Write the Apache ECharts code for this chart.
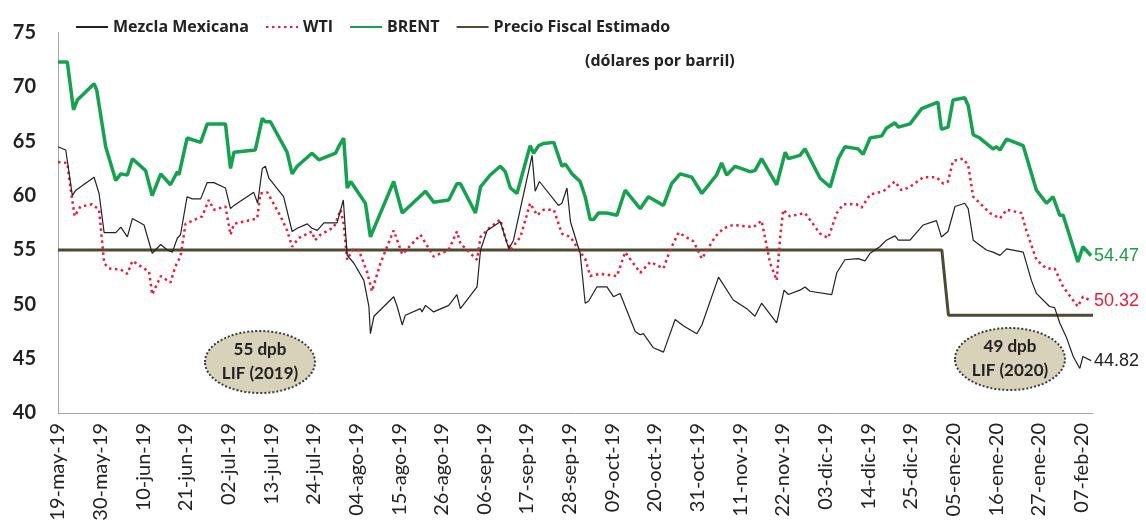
<!DOCTYPE html>
<html>
<head>
<meta charset="utf-8">
<title>Precios del petróleo</title>
<script src="https://cdn.jsdelivr.net/npm/echarts@6/dist/echarts.min.js"></script>
<style>
  html, body { margin: 0; padding: 0; background: #fff; }
  #chart { width: 1146px; height: 527px; }
</style>
</head>
<body>
<div id="chart"></div>
<script>
// dias contados desde el 19-may-19, etiquetas cada 11 dias
const tickLabels = ['19-may-19', '30-may-19', '10-jun-19', '21-jun-19', '02-jul-19', '13-jul-19', '24-jul-19',
  '04-ago-19', '15-ago-19', '26-ago-19', '06-sep-19', '17-sep-19', '28-sep-19', '09-oct-19', '20-oct-19',
  '31-oct-19', '11-nov-19', '22-nov-19', '03-dic-19', '14-dic-19', '25-dic-19', '05-ene-20', '16-ene-20',
  '27-ene-20', '07-feb-20'];

// [dia, dolares por barril]
const mezcla = [[0,64.5],[2,64.2],[3.7,60.0],[4.6,60.5],[9.3,61.7],[10.6,60.2],[11.9,56.6],[14.9,56.6],[16.2,57.1],
  [17.9,56.2],[19.2,57.9],[22.2,57.3],[24.3,54.7],[26.5,55.5],[28.2,55.0],[29.5,54.8],[30.8,56.1],[31.6,56.4],
  [33.3,59.9],[34.6,59.7],[36.8,59.7],[38.5,61.2],[40.2,61.2],[43.2,60.7],[44.5,58.8],[45.4,59.1],[50.5,60.3],
  [51.5,59.3],[52.7,62.5],[53.5,62.7],[54.4,61.6],[58.2,59.9],[60.4,56.7],[61.7,57.0],[64.3,57.4],[65.5,57.0],
  [66.9,56.8],[68.6,57.5],[72,57.5],[73.6,59.6],[74.6,54.5],[76.3,53.8],[78.9,52.2],[80.2,49.8],[80.6,47.3],
  [81.5,48.9],[86.6,50.7],[87.5,49.8],[88.8,48.1],[89.6,49.0],[93.5,49.6],[93.9,49.3],[94.8,49.9],[96.9,49.3],
  [100.8,49.9],[102.9,50.9],[103.8,49.6],[108.1,51.6],[109,55.0],[110.7,56.8],[114.1,57.6],[116.3,55.1],
  [117.5,55.9],[122.3,63.7],[123.1,60.4],[124.2,61.3],[129.1,59.1],[130,59.3],[131.3,60.7],[132.2,57.6],
  [134.7,54.7],[136,50.1],[136.9,50.3],[139,51.6],[141.6,51.6],[143.3,50.7],[145,51.0],[148.9,47.5],[150.2,47.2],
  [151,47.3],[153.6,46.0],[156.2,45.6],[159.2,48.6],[161.4,48.0],[164.8,47.3],[166.1,48.1],[170.4,52.5],
  [174.2,50.4],[177.7,49.6],[179.8,48.9],[181.5,50.1],[185.4,48.3],[187.3,51.3],[188.4,50.9],[191.4,51.3],
  [192.7,51.6],[194,51.2],[199.6,50.9],[200.9,52.9],[203,54.1],[206.4,54.2],[208.2,54.0],[209.5,54.7],[212,55.3],
  [213.7,55.9],[215.9,56.3],[216.8,55.9],[219.8,55.9],[223.2,57.3],[226.6,57.7],[227.9,56.2],[229.6,56.7],
  [231.4,59.0],[233.9,59.3],[234.8,58.8],[236.1,55.9],[239.5,55.0],[241.2,54.8],[243,54.5],[244.7,55.1],
  [249,54.8],[251.1,52.2],[252.4,51.0],[255.8,49.8],[257.1,49.7],[258.4,48.3],[260.1,47.0],[261.9,45.2],
  [263.6,44.1],[264.4,45.2],[266.5,44.82]];

const wti = [[0,63.1],[2.4,63.0],[3.3,60.5],[4.3,58.1],[5.8,59.0],[8.8,59.2],[10.6,58.7],[11.9,53.8],[13.1,53.3],
  [16.2,53.2],[17.9,52.8],[19.2,54.0],[22.2,53.3],[23.5,53.0],[24.3,50.9],[26.5,52.6],[29,52.0],[30.3,53.5],
  [31.6,54.4],[32.9,57.4],[37.2,58.1],[38.9,59.6],[40.2,58.7],[43.2,59.0],[44.5,56.4],[45.4,57.4],[51.4,57.9],
  [52.2,60.2],[54,60.3],[57.4,58.1],[59.1,56.8],[60.4,55.3],[62.1,56.1],[65.5,56.7],[66.3,55.9],[67.7,56.4],
  [71.2,57.1],[72.9,58.7],[73.7,57.4],[74.6,54.1],[75.9,55.0],[77.6,55.0],[79.7,53.0],[81,51.2],[83.2,53.8],
  [86.6,56.8],[88.8,54.6],[93.5,56.4],[96.9,54.4],[100.8,55.0],[102.9,56.7],[103.8,55.6],[108.1,54.1],[109,56.2],
  [111.5,57.1],[114.1,57.8],[115.4,56.1],[116.7,55.0],[119.3,56.2],[121.8,59.3],[123.6,58.2],[125.3,58.7],
  [127.9,58.7],[130,56.5],[132.2,56.2],[134.7,54.8],[136,54.2],[137.3,52.6],[139.9,52.8],[144.2,52.6],
  [146.3,54.8],[150.2,52.9],[152.8,53.9],[156.2,53.3],[157.9,55.0],[160.1,56.6],[163.9,55.8],[166.1,54.2],
  [169.5,56.2],[171.7,57.0],[174.2,57.3],[179.4,57.1],[181.5,57.7],[183.7,53.8],[185.4,52.2],[186.3,56.2],
  [187.1,58.7],[188.8,58.1],[192.7,58.4],[196.6,56.5],[198.7,56.1],[200.9,58.4],[202.6,59.2],[206,59.2],
  [207.3,58.9],[209.5,60.1],[212.9,60.4],[215.9,61.3],[217.6,60.5],[219.8,60.8],[223.2,61.7],[226.6,61.7],
  [228.4,61.1],[229.6,61.3],[230.9,63.2],[233.5,63.4],[234.8,62.8],[236.1,59.9],[240.4,58.4],[243,57.9],
  [244.7,58.7],[248.5,58.4],[249.8,56.8],[252.4,54.1],[255,53.3],[257.1,53.3],[259.3,51.6],[263.1,49.8],
  [264.4,50.7],[266.5,50.32]];

const brent = [[0,72.3],[2.4,72.3],[4,67.9],[5,68.8],[9.3,70.3],[10,69.7],[12.3,64.5],[14.9,61.4],[16.2,62.0],
  [17.9,61.9],[19.2,63.4],[22.6,62.3],[24.3,60.0],[26.5,62.0],[29,61.0],[30.8,62.2],[31.2,61.9],[33.3,65.3],
  [36.8,64.9],[38.5,66.6],[43.2,66.6],[44.5,62.5],[45.4,64.0],[50.9,64.2],[52.7,67.1],[53.5,66.8],[54.8,66.8],
  [59.1,64.0],[60.4,62.0],[61.7,62.7],[65.5,63.9],[67.3,63.3],[71.6,63.9],[72.4,64.5],[73.7,65.3],[74.6,60.7],
  [75.5,61.3],[79.3,59.3],[80.6,56.2],[86.6,61.3],[88.8,58.4],[94.8,60.4],[96.9,59.4],[100.8,59.6],[102.9,61.1],
  [103.8,61.1],[107.7,58.4],[109,60.8],[111.5,61.9],[114.1,62.7],[115.4,62.2],[116.7,60.7],[118.4,60.2],
  [121.8,64.6],[122.7,63.9],[124,64.6],[125.3,64.8],[127.9,64.9],[130,62.7],[130.9,62.9],[132.6,62.0],
  [134.7,61.3],[136,59.9],[137.3,57.8],[138.2,57.8],[139.4,58.4],[141.6,58.4],[144.2,58.2],[146.3,60.5],
  [150.2,58.8],[152.3,59.9],[156.2,59.1],[158.3,61.1],[160.5,62.0],[163.5,61.7],[166.1,60.2],[169.9,61.9],
  [171.2,63.0],[172.5,61.9],[174.7,62.7],[178.5,62.2],[179.8,62.3],[181.5,63.4],[185.4,61.0],[187.6,64.0],
  [188.4,63.4],[191.4,63.7],[192.7,64.3],[196.6,61.6],[199.2,60.8],[201.3,63.4],[203,64.5],[206.4,64.3],
  [207.7,63.8],[209.5,65.3],[212.5,65.5],[213.7,66.2],[215.9,66.7],[216.8,66.3],[219.8,66.6],[222.8,68.0],
  [227,68.6],[227.9,66.1],[229.6,66.3],[230.9,68.8],[233.9,69.0],[234.8,68.3],[236.1,65.6],[237.8,65.3],
  [241.2,64.3],[242.1,64.5],[243,64.2],[244.7,65.2],[249,64.6],[252.4,60.5],[255,59.3],[256.7,59.9],
  [258.4,58.2],[259.3,58.2],[263.1,53.9],[264.4,55.3],[266.5,54.47]];

const precioFiscal = [[0,55],[228,55],[229.7,49],[267,49]];

const notas = [
  { text: '55 dpb\nLIF (2019)', x: 260, y: 362 },
  { text: '49 dpb\nLIF (2020)', x: 1010, y: 359 }
];

const FONT = 'Lato, "Open Sans", sans-serif';
const FONT_WIDE = '"Open Sans", Lato, sans-serif';

let chart = echarts.init(document.getElementById('chart'));

let graphics = [];
notas.forEach(n => {
  graphics.push({
    type: 'ellipse',
    shape: { cx: n.x, cy: n.y, rx: 55, ry: 31 },
    style: { fill: '#d7d2b9', stroke: '#3a3a3a', lineWidth: 2, lineDash: [2, 2] },
    z: 10
  });
  graphics.push({
    type: 'text',
    x: n.x, y: n.y,
    style: {
      text: n.text, font: 'bold 17px ' + FONT, fill: '#222',
      textAlign: 'center', textVerticalAlign: 'middle', lineHeight: 24
    },
    z: 11
  });
});

function endLbl(color) {
  return {
    show: true,
    formatter: p => p.value[1].toFixed(2),
    color: color,
    fontSize: 18,
    fontFamily: '"Liberation Sans", Arial, sans-serif',
    distance: 3
  };
}

let option = {
  animation: false,
  title: {
    text: '(dólares por barril)',
    left: 580, top: 48,
    textStyle: { fontFamily: FONT_WIDE, fontWeight: 'bold', fontSize: 16, color: '#222' }
  },
  legend: {
    left: 70, top: 14,
    itemWidth: 32, itemHeight: 12, itemGap: 16,
    itemStyle: { opacity: 0 },
    textStyle: { fontFamily: FONT_WIDE, fontWeight: 'bold', fontSize: 16, color: '#222' },
    data: ['Mezcla Mexicana', 'WTI', 'BRENT', 'Precio Fiscal Estimado']
  },
  grid: { left: 58, right: 53, top: 32.6, bottom: 114 },
  xAxis: {
    type: 'value',
    min: 0, max: 267, interval: 11,
    splitLine: { show: false },
    axisTick: { show: false },
    axisLine: { lineStyle: { color: '#a6a6a6', width: 1 } },
    axisLabel: {
      rotate: 90, margin: 10, color: '#222',
      fontFamily: FONT, fontSize: 20,
      showMaxLabel: false,
      formatter: v => (v % 11 === 0 ? tickLabels[v / 11] : '')
    }
  },
  yAxis: {
    type: 'value',
    min: 40, max: 75, interval: 5,
    splitLine: { show: false },
    axisTick: { show: false },
    axisLine: { show: true, lineStyle: { color: '#a6a6a6', width: 1 } },
    axisLabel: { margin: 22, color: '#222', fontFamily: FONT, fontWeight: 'bold', fontSize: 20 }
  },
  graphic: graphics,
  series: [
    {
      name: 'Mezcla Mexicana', type: 'line', data: mezcla, symbol: 'none',
      lineStyle: { color: '#222', width: 1.2 }, itemStyle: { color: '#222' },
      endLabel: endLbl('#222'), z: 4
    },
    {
      name: 'WTI', type: 'line', data: wti, symbol: 'none',
      lineStyle: { color: '#ee1b36', width: 2.5, type: [2.5, 3.5] }, itemStyle: { color: '#ee1b36' },
      endLabel: endLbl('#ee1b36'), z: 3
    },
    {
      name: 'BRENT', type: 'line', data: brent, symbol: 'none',
      lineStyle: { color: '#14a24e', width: 3.5 }, itemStyle: { color: '#14a24e' },
      endLabel: endLbl('#1a9e3e'), z: 2
    },
    {
      name: 'Precio Fiscal Estimado', type: 'line', data: precioFiscal, symbol: 'none',
      lineStyle: { color: '#4e4a32', width: 3 }, itemStyle: { color: '#4e4a32' }, z: 1
    }
  ]
};

chart.setOption(option);
</script>
</body>
</html>
